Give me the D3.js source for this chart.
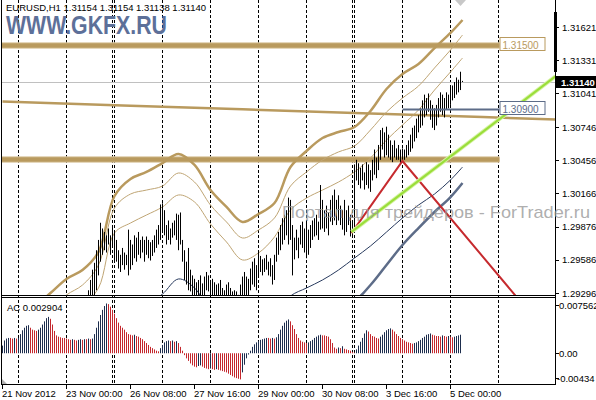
<!DOCTYPE html>
<html>
<head>
<meta charset="utf-8">
<script src="https://cdn.jsdelivr.net/npm/d3@7"></script>
<style>
html, body { margin: 0; padding: 0; background: #fff; }
svg { display: block; font-family: "Liberation Sans", Arial, sans-serif; }
</style>
</head>
<body>
<script>
// hourly EURUSD bars, 21 Nov 2012 16:00 .. 5 Dec 2012 06:00
var barHigh = [
1.2838,1.2842,1.2840,1.2845,1.2850,1.2848,1.2852,1.2855,1.2850,1.2856,
1.2860,1.2858,1.2862,1.2868,1.2865,1.2870,1.2872,1.2868,1.2874,1.2878,
1.2880,1.2876,1.2882,1.2885,1.2880,1.2884,1.2888,1.2886,1.2890,1.2892,
1.2888,1.2893,1.2895,1.2891,1.2896,1.2898,1.2894,1.2899,1.2902,1.2900,
1.2905,1.2910,1.2915,1.2932,1.2941,1.2950,1.2956,1.2967,1.2976,1.2991,
1.2986,1.2983,1.2980,1.2986,1.2980,1.2989,1.2983,1.2976,1.2967,1.2963,
1.2969,1.2965,1.2963,1.2985,1.2976,1.2972,1.2980,1.2978,1.2983,1.2976,
1.2979,1.2976,1.2979,1.2976,1.2974,1.2976,1.2980,1.2985,1.2989,1.3007,
1.3008,1.3002,1.2989,1.2993,1.2986,1.2991,1.2993,1.2999,1.2998,1.3000,
1.2976,1.2967,1.2957,1.2969,1.2950,1.2945,1.2942,1.2939,1.2941,1.2945,
1.2938,1.2944,1.2948,1.2945,1.2941,1.2942,1.2939,1.2937,1.2938,1.2941,
1.2934,1.2932,1.2937,1.2939,1.2934,1.2931,1.2932,1.2931,1.2928,1.2937,
1.2944,1.2948,1.2944,1.2942,1.2951,1.2957,1.2960,1.2954,1.2967,1.2962,
1.2959,1.2960,1.2963,1.2957,1.2960,1.2954,1.2963,1.2978,1.2983,1.2989,
1.2995,1.2998,1.3002,1.3013,1.3011,1.2989,1.2978,1.2985,1.2978,1.2989,
1.2992,1.2986,1.2993,1.2985,1.2989,1.2993,1.2995,1.2998,1.2992,1.3024,
1.3011,1.3002,1.3006,1.3000,1.3011,1.3015,1.3020,1.3011,1.3015,1.3006,
1.3002,1.3011,1.3002,1.3006,1.2998,1.2993,1.3042,1.3046,1.3043,1.3039,
1.3042,1.3035,1.3044,1.3042,1.3037,1.3046,1.3055,1.3048,1.3059,1.3072,
1.3074,1.3070,1.3075,1.3068,1.3063,1.3059,1.3063,1.3056,1.3059,1.3055,
1.3056,1.3055,1.3059,1.3063,1.3068,1.3074,1.3076,1.3082,1.3085,1.3091,
1.3098,1.3103,1.3100,1.3104,1.3098,1.3094,1.3091,1.3094,1.3100,1.3105,
1.3103,1.3100,1.3105,1.3103,1.3109,1.3111,1.3114,1.3118,1.3116,1.3123,
1.3115];
var barLow = [
1.2826,1.2830,1.2829,1.2832,1.2838,1.2836,1.2840,1.2842,1.2839,1.2843,
1.2847,1.2846,1.2850,1.2855,1.2853,1.2857,1.2860,1.2856,1.2862,1.2865,
1.2868,1.2864,1.2870,1.2872,1.2868,1.2872,1.2875,1.2874,1.2878,1.2880,
1.2876,1.2881,1.2883,1.2879,1.2884,1.2886,1.2882,1.2887,1.2890,1.2888,
1.2893,1.2897,1.2902,1.2924,1.2924,1.2923,1.2925,1.2932,1.2945,1.2957,
1.2963,1.2967,1.2965,1.2972,1.2963,1.2969,1.2957,1.2957,1.2951,1.2948,
1.2954,1.2950,1.2954,1.2945,1.2950,1.2954,1.2960,1.2957,1.2963,1.2960,
1.2965,1.2957,1.2963,1.2960,1.2958,1.2962,1.2965,1.2969,1.2972,1.2976,
1.2983,1.2980,1.2972,1.2976,1.2972,1.2978,1.2980,1.2976,1.2967,1.2972,
1.2957,1.2941,1.2937,1.2932,1.2931,1.2927,1.2927,1.2925,1.2925,1.2927,
1.2924,1.2927,1.2932,1.2931,1.2927,1.2927,1.2925,1.2924,1.2925,1.2925,
1.2922,1.2919,1.2924,1.2925,1.2919,1.2917,1.2919,1.2917,1.2915,1.2922,
1.2925,1.2927,1.2927,1.2927,1.2932,1.2937,1.2935,1.2932,1.2945,1.2948,
1.2945,1.2948,1.2950,1.2945,1.2944,1.2937,1.2941,1.2957,1.2963,1.2967,
1.2972,1.2976,1.2980,1.2972,1.2976,1.2945,1.2959,1.2967,1.2960,1.2972,
1.2969,1.2965,1.2960,1.2963,1.2969,1.2976,1.2979,1.2980,1.2976,1.2985,
1.2986,1.2983,1.2986,1.2980,1.2992,1.2989,1.2993,1.2989,1.2993,1.2989,
1.2985,1.2980,1.2983,1.2989,1.2979,1.2979,1.2989,1.3028,1.3024,1.3021,
1.3028,1.3020,1.3024,1.3021,1.3018,1.3028,1.3033,1.3030,1.3037,1.3046,
1.3055,1.3048,1.3050,1.3048,1.3046,1.3044,1.3048,1.3046,1.3046,1.3043,
1.3044,1.3046,1.3048,1.3050,1.3053,1.3056,1.3062,1.3065,1.3070,1.3074,
1.3076,1.3083,1.3085,1.3088,1.3081,1.3074,1.3072,1.3076,1.3083,1.3088,
1.3085,1.3083,1.3090,1.3091,1.3094,1.3098,1.3100,1.3103,1.3105,1.3107,
1.3114];

// accelerator oscillator, one value per bar
var acValues = [
0.0012,0.0020,0.0023,0.0024,0.0024,0.0023,0.0024,0.0023,0.0024,0.0030,
0.0036,0.0040,0.0043,0.0044,0.0040,0.0037,0.0036,0.0035,0.0037,0.0040,
0.0045,0.0050,0.0055,0.0057,0.0054,0.0045,0.0035,0.0028,0.0026,0.0025,
0.0024,0.0024,0.0023,0.0022,0.0021,0.0022,0.0021,0.0020,0.0021,0.0022,
0.0021,0.0022,0.0022,0.0023,0.0022,0.0023,0.0030,0.0040,0.0050,0.0060,
0.0068,0.0074,0.0078,0.0077,0.0073,0.0068,0.0062,0.0055,0.0048,0.0043,
0.0040,0.0037,0.0033,0.0030,0.0029,0.0028,0.0029,0.0027,0.0026,0.0024,
0.0022,0.0019,0.0016,0.0013,0.0010,0.0008,0.0006,0.0004,0.0003,0.0008,
0.0013,0.0017,0.0019,0.0020,0.0019,0.0020,0.0018,0.0019,0.0016,0.0010,
0.0004,-0.0003,-0.0008,-0.0012,-0.0016,-0.0019,-0.0021,-0.0022,-0.0020,-0.0019,
-0.0021,-0.0023,-0.0024,-0.0025,-0.0024,-0.0025,-0.0026,-0.0025,-0.0026,-0.0027,
-0.0028,-0.0029,-0.0030,-0.0032,-0.0034,-0.0036,-0.0038,-0.0039,-0.0040,-0.0041,
-0.0030,-0.0018,-0.0008,-0.0002,0.0004,0.0010,0.0014,0.0017,0.0019,0.0021,
0.0022,0.0023,0.0024,0.0024,0.0023,0.0024,0.0023,0.0025,0.0030,0.0037,
0.0043,0.0048,0.0051,0.0053,0.0050,0.0044,0.0038,0.0030,0.0024,0.0020,
0.0018,0.0017,0.0016,0.0017,0.0019,0.0021,0.0024,0.0026,0.0028,0.0029,
0.0028,0.0028,0.0027,0.0026,0.0022,0.0016,0.0009,0.0007,0.0009,0.0008,
0.0011,0.0007,0.0006,0.0005,0.0004,0.0002,0.0001,0.0006,0.0012,0.0018,
0.0024,0.0031,0.0036,0.0034,0.0030,0.0027,0.0026,0.0024,0.0023,0.0026,
0.0029,0.0033,0.0036,0.0038,0.0039,0.0037,0.0034,0.0030,0.0027,0.0024,
0.0022,0.0020,0.0018,0.0017,0.0016,0.0015,0.0016,0.0017,0.0019,0.0021,
0.0024,0.0026,0.0029,0.0030,0.0031,0.0029,0.0028,0.0027,0.0027,0.0026,
0.0028,0.0027,0.0026,0.0027,0.0026,0.0025,0.0026,0.0027,0.0028,0.002904];

// envelope lines, read every 8 bars
var bandIdx = [0,8,16,24,32,40,48,56,64,72,80,88,96,104,112,120,128,136,144,152,160,168,176,184,192,200,208,216,224,230];
var upperOuter = [1.28929,1.29060,1.29174,1.29296,1.29419,1.29497,1.29655,1.30144,1.30293,1.30354,1.30432,1.30511,1.30415,1.30196,1.30048,1.29917,1.29987,1.30083,1.30397,1.30537,1.30651,1.30703,1.30747,1.30887,1.31079,1.31210,1.31298,1.31437,1.31569,1.31682];
var upperMid = [1.28798,1.28912,1.29025,1.29148,1.29279,1.29366,1.29541,1.30039,1.30161,1.30196,1.30231,1.30345,1.30266,1.30065,1.29917,1.29777,1.29847,1.29952,1.30231,1.30354,1.30459,1.30529,1.30581,1.30721,1.30878,1.31000,1.31105,1.31263,1.31420,1.31551];
var upperInner = [1.28606,1.28711,1.28824,1.28947,1.29078,1.29183,1.29340,1.29821,1.29908,1.29978,1.30048,1.30153,1.30092,1.29899,1.29742,1.29585,1.29646,1.29786,1.30022,1.30126,1.30196,1.30266,1.30354,1.30476,1.30633,1.30764,1.30896,1.31070,1.31228,1.31350];
var lowerInner = [1.28361,1.28405,1.28448,1.28492,1.28536,1.28623,1.28754,1.28973,1.29078,1.29191,1.29287,1.29419,1.29340,1.29130,1.28973,1.28885,1.28955,1.29104,1.29270,1.29340,1.29410,1.29497,1.29602,1.29707,1.29829,1.29952,1.30065,1.30161,1.30284,1.30397];
var lowerOuter = [1.28186,1.28230,1.28274,1.28317,1.28361,1.28448,1.28579,1.28781,1.28885,1.28990,1.29095,1.29218,1.29148,1.28955,1.28798,1.28711,1.28781,1.28920,1.29078,1.29130,1.29191,1.29252,1.29235,1.29366,1.29541,1.29716,1.29864,1.30004,1.30135,1.30258];

// long moving average
var longMaIdx = [0, 60, 120, 180, 240, 277];
var longMa = [1.30970, 1.30936, 1.30902, 1.30868, 1.30834, 1.30813];

// drawn objects
var levelTop = 1.3146, levelTopLabel = "1.31500";
var levelMid = 1.30463;
var levelBlue = 1.30900, levelBlueLabel = "1.30900";
var levelBlueFrom = 200;
var lastPrice = 1.31140;
var redIdx = [174.5, 200, 260];
var redPrice = [1.2982, 1.3045, 1.2920];
var greenIdx = [174.5, 276.5];
var greenPrice = [1.2983, 1.3119];

var priceTicks = [1.31621, 1.31331, 1.31041, 1.30746, 1.30456, 1.30166, 1.29876, 1.29586, 1.29296];
var priceTickLabels = ["1.31621", "1.31331", "1.31041", "1.30746", "1.30456", "1.30166", "1.29876", "1.29586", "1.29296"];
var acTicks = [0.007562, 0, -0.00434];
var acTickLabels = ["0.007562", "0.00", "-0.00434"];
var timeIdx = [0, 32, 64, 96, 128, 160, 192, 224];
var timeLabels = ["21 Nov 2012", "23 Nov 00:00", "26 Nov 08:00", "27 Nov 16:00", "29 Nov 00:00", "30 Nov 08:00", "3 Dec 16:00", "5 Dec 00:00"];
var gridIdx = [8, 32, 55, 56, 80, 104, 128, 152, 175, 176, 200, 224, 248];

var gold = "#b99a5e", goldThin = "#bfa574", navy = "#283a5e", slate = "#5d6c88";
var acBlue = "#1d2d4d", acRed = "#c4272d";

var svg = d3.select("body").append("svg")
    .attr("width", 596)
    .attr("height", 400);

var xBar = d3.scaleLinear().domain([0, 1]).range([2.5, 4.5]);
var yPrice = d3.scaleLinear().domain([1.29270, 1.31857]).range([296, 0]);
var yAC = d3.scaleLinear().domain([-0.00482, 0.00866]).range([384, 298]);

var defs = svg.append("defs");
defs.append("clipPath").attr("id", "clipPrice")
    .append("rect").attr("x", 2).attr("y", 0).attr("width", 553.5).attr("height", 295);
defs.append("clipPath").attr("id", "clipAC")
    .append("rect").attr("x", 2).attr("y", 297).attr("width", 553.5).attr("height", 87);

// grid
svg.append("g").selectAll("line")
    .data(gridIdx)
    .enter()
    .append("line")
    .attr("x1", function (d) { return xBar(d); })
    .attr("x2", function (d) { return xBar(d); })
    .attr("y1", 0)
    .attr("y2", 384)
    .attr("stroke", "#000")
    .attr("stroke-width", 1)
    .attr("stroke-dasharray", "3,2");

var price = svg.append("g").attr("clip-path", "url(#clipPrice)");

price.append("line")
    .attr("x1", 2).attr("x2", 556)
    .attr("y1", Math.round(yPrice(lastPrice)) + 0.5)
    .attr("y2", Math.round(yPrice(lastPrice)) + 0.5)
    .attr("stroke", "#c0c0c0");

var line = d3.line()
    .x(function (d) { return xBar(d[0]); })
    .y(function (d) { return yPrice(d[1]); });

price.append("path")
    .datum(d3.zip(longMaIdx, longMa))
    .attr("d", line)
    .attr("fill", "none")
    .attr("stroke", gold)
    .attr("stroke-width", 2.5);

// horizontal levels
[levelTop, levelMid].forEach(function (lv) {
    price.append("line")
        .attr("x1", 2).attr("x2", xBar(248.5))
        .attr("y1", yPrice(lv)).attr("y2", yPrice(lv))
        .attr("stroke", "#dccaa6")
        .attr("stroke-width", 6.5);
    price.append("line")
        .attr("x1", 2).attr("x2", xBar(248.5))
        .attr("y1", yPrice(lv)).attr("y2", yPrice(lv))
        .attr("stroke", gold)
        .attr("stroke-width", 4.5);
});

var curved = d3.line()
    .x(function (d) { return xBar(d[0]); })
    .y(function (d) { return yPrice(d[1]); })
    .curve(d3.curveCatmullRom);

var bands = [
    { v: upperInner, c: goldThin, w: 1 },
    { v: upperMid, c: goldThin, w: 1 },
    { v: upperOuter, c: gold, w: 2.5 },
    { v: lowerInner, c: navy, w: 1 },
    { v: lowerOuter, c: slate, w: 2.5 }
];
price.selectAll(".band")
    .data(bands)
    .enter()
    .append("path")
    .attr("class", "band")
    .attr("d", function (d) { return curved(d3.zip(bandIdx, d.v)); })
    .attr("fill", "none")
    .attr("stroke", function (d) { return d.c; })
    .attr("stroke-width", function (d) { return d.w; });

// bars
price.append("g").selectAll("line")
    .data(barHigh)
    .enter()
    .append("line")
    .attr("x1", function (d, i) { return xBar(i); })
    .attr("x2", function (d, i) { return xBar(i); })
    .attr("y1", function (d) { return yPrice(d); })
    .attr("y2", function (d, i) { return Math.max(yPrice(barLow[i]), yPrice(d) + 1); })
    .attr("stroke", "#000")
    .attr("stroke-width", 1);

price.append("line")
    .attr("x1", xBar(levelBlueFrom)).attr("x2", xBar(248.5))
    .attr("y1", yPrice(levelBlue)).attr("y2", yPrice(levelBlue))
    .attr("stroke", slate)
    .attr("stroke-width", 2);

price.append("path")
    .datum(d3.zip(redIdx, redPrice))
    .attr("d", line)
    .attr("fill", "none")
    .attr("stroke", "#c62a2e")
    .attr("stroke-width", 2);

price.append("path")
    .datum(d3.zip(greenIdx, greenPrice))
    .attr("d", line)
    .attr("fill", "none")
    .attr("stroke", "#d8f3a8")
    .attr("stroke-width", 4);
price.append("path")
    .datum(d3.zip(greenIdx, greenPrice))
    .attr("d", line)
    .attr("fill", "none")
    .attr("stroke", "#9ade3a")
    .attr("stroke-width", 2.2);

// level labels
var labels = [
    { p: levelTop, t: levelTopLabel, c: "#b99a5e" },
    { p: levelBlue, t: levelBlueLabel, c: slate }
];
var lab = svg.selectAll(".lvl")
    .data(labels)
    .enter()
    .append("g")
    .attr("class", "lvl");
lab.append("rect")
    .attr("x", xBar(249) - 0.5)
    .attr("y", function (d) { return Math.round(yPrice(d.p)) - 7.5; })
    .attr("width", 45)
    .attr("height", 13)
    .attr("fill", "#fff")
    .attr("stroke", function (d) { return d.c; });
lab.append("text")
    .attr("x", xBar(249) + 2)
    .attr("y", function (d) { return Math.round(yPrice(d.p)) + 3.5; })
    .style("font-size", "10px")
    .attr("fill", function (d) { return d.c; })
    .text(function (d) { return d.t; });

// AC panel
var ac = svg.append("g").attr("clip-path", "url(#clipAC)");
ac.selectAll("line")
    .data(acValues)
    .enter()
    .append("line")
    .attr("x1", function (d, i) { return xBar(i); })
    .attr("x2", function (d, i) { return xBar(i); })
    .attr("y1", yAC(0))
    .attr("y2", function (d) { return yAC(d); })
    .attr("stroke", function (d, i) {
        return (i == 0 || d > acValues[i - 1]) ? acBlue : acRed;
    })
    .attr("stroke-width", 1);

// frame
svg.append("line").attr("x1", 1.5).attr("x2", 1.5).attr("y1", 0).attr("y2", 385).attr("stroke", "#000");
svg.append("line").attr("x1", 555.5).attr("x2", 555.5).attr("y1", 0).attr("y2", 385).attr("stroke", "#000");
svg.append("line").attr("x1", 1).attr("x2", 556).attr("y1", 295.5).attr("y2", 295.5).attr("stroke", "#000");
svg.append("line").attr("x1", 1).attr("x2", 556).attr("y1", 297.5).attr("y2", 297.5).attr("stroke", "#000");
svg.append("line").attr("x1", 1).attr("x2", 556).attr("y1", 384.5).attr("y2", 384.5).attr("stroke", "#000");
svg.append("rect").attr("x", 554).attr("y", 12).attr("width", 3).attr("height", 60).attr("fill", "#000");
svg.append("path").attr("d", "M455,0 L466,0 L460.5,6 Z").attr("fill", "#c8c8c8");
svg.append("path").attr("d", "M2,379 L2,384 L7,384 Z").attr("fill", "#b0b0b0");

// price axis
var pAxis = svg.append("g").selectAll("g")
    .data(priceTicks)
    .enter()
    .append("g");
pAxis.append("line")
    .attr("x1", 556).attr("x2", 559)
    .attr("y1", function (d) { return Math.round(yPrice(d)) + 0.5; })
    .attr("y2", function (d) { return Math.round(yPrice(d)) + 0.5; })
    .attr("stroke", "#000");
pAxis.append("text")
    .attr("x", 562)
    .attr("y", function (d) { return yPrice(d) + 3.5; })
    .style("font-size", "9.5px")
    .text(function (d, i) { return priceTickLabels[i]; });

svg.append("rect")
    .attr("x", 556).attr("y", Math.round(yPrice(lastPrice)) - 6)
    .attr("width", 40).attr("height", 12)
    .attr("fill", "#000");
svg.append("text")
    .attr("x", 561).attr("y", yPrice(lastPrice) + 3.5)
    .style("font-size", "9.5px")
    .style("font-weight", "bold")
    .attr("fill", "#fff")
    .text(d3.format(".5f")(lastPrice));

// AC axis
var aAxis = svg.append("g").selectAll("g")
    .data(acTicks)
    .enter()
    .append("g");
aAxis.append("line")
    .attr("x1", 556).attr("x2", 559)
    .attr("y1", function (d) { return Math.min(Math.round(yAC(d)), 378) + 0.5; })
    .attr("y2", function (d) { return Math.min(Math.round(yAC(d)), 378) + 0.5; })
    .attr("stroke", "#000");
aAxis.append("text")
    .attr("x", function (d) { return d < 0 ? 557 : 559; })
    .attr("y", function (d) { return Math.min(yAC(d), 378) + 3.5; })
    .style("font-size", "9.5px")
    .text(function (d, i) { return acTickLabels[i]; });

// time axis
var tAxis = svg.append("g").selectAll("g")
    .data(timeIdx)
    .enter()
    .append("g");
tAxis.append("line")
    .attr("x1", function (d) { return xBar(d); })
    .attr("x2", function (d) { return xBar(d); })
    .attr("y1", 385).attr("y2", 389)
    .attr("stroke", "#000");
tAxis.append("text")
    .attr("x", function (d) { return xBar(d) - 0.5; })
    .attr("y", 397)
    .style("font-size", "9.5px")
    .text(function (d, i) { return timeLabels[i]; });

// texts
svg.append("text")
    .attr("x", 6).attr("y", 11)
    .style("font-size", "9.5px")
    .text("EURUSD,H1  1.31154 1.31154 1.31138 1.31140");
svg.append("text")
    .attr("x", 6).attr("y", 34)
    .attr("textLength", 161)
    .attr("lengthAdjust", "spacingAndGlyphs")
    .style("font-size", "25px")
    .style("font-weight", "bold")
    .attr("fill", "#5d7099")
    .text("WWW.GKFX.RU");
svg.append("text")
    .attr("x", 7).attr("y", 311)
    .style("font-size", "9.5px")
    .text("AC 0.002904");
svg.append("text")
    .attr("x", 282).attr("y", 218)
    .attr("textLength", 308)
    .attr("lengthAdjust", "spacingAndGlyphs")
    .style("font-size", "17px")
    .attr("fill", "#999")
    .attr("fill-opacity", 0.8)
    .text("Портал для трейдеров - ForTrader.ru");
</script>
</body>
</html>
